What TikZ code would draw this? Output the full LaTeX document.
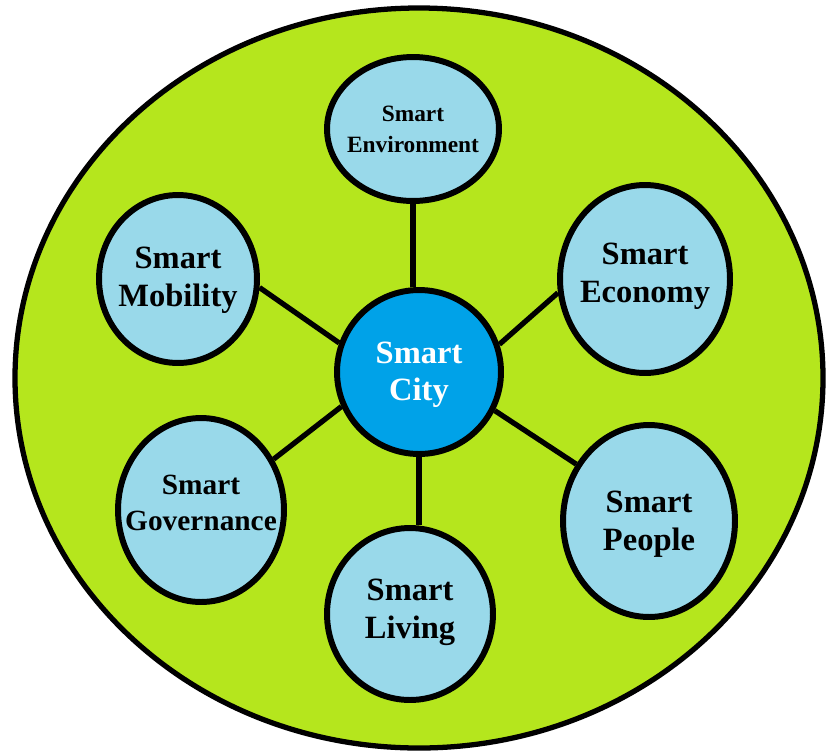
\documentclass[tikz,border=0pt]{standalone}
\usepackage{fontspec}
\setmainfont{Liberation Serif}
\usetikzlibrary{shapes.geometric}
\definecolor{limegreen}{HTML}{B5E61D}
\definecolor{paleblue}{HTML}{99D9EA}
\definecolor{cityblue}{HTML}{00A2E8}
\tikzset{
	part/.style={ellipse, draw=black, line width=3.4pt, fill=paleblue, inner sep=0pt},
	parttext/.style={align=center, inner sep=0pt, font=\bfseries\fontsize{18.5}{21.5}\selectfont},
	link/.style={line width=3pt},
}

\begin{document}
\begin{tikzpicture}[x=0.02cm, y=-0.02cm]
		\useasboundingbox (0,0) rectangle (827,754);
		\draw[fill=limegreen, line width=3pt] (419,378) ellipse [x radius=404, y radius=370];
		% the six parts round the centre
		\node[part, fill=cityblue, minimum width=3.28cm, minimum height=3.28cm] (city) at (419,372) {};
		\node[part, minimum width=3.44cm, minimum height=2.88cm] (env) at (413,129) {};
		\node[part, minimum width=3.16cm, minimum height=3.36cm] (mob) at (178,279) {};
		\node[part, minimum width=3.40cm, minimum height=3.76cm] (eco) at (645,279) {};
		\node[part, minimum width=3.32cm, minimum height=3.68cm] (gov) at (201,510) {};
		\node[part, minimum width=3.32cm, minimum height=3.44cm] (liv) at (410,614) {};
		\node[part, minimum width=3.44cm, minimum height=3.84cm] (peo) at (649,521) {};
		% texts
		\node[parttext, text=white, yshift=-1.5pt] (citytext) at (city) {Smart\\City};
		\node[parttext, font=\bfseries\fontsize{13.3}{17.5}\selectfont] (envtext) at (env) {Smart\\Environment};
		\node[parttext, yshift=-0.5pt] (mobtext) at (mob) {Smart\\Mobility};
		\node[parttext, yshift=1.5pt] (ecotext) at (eco) {Smart\\Economy};
		\node[parttext, font=\bfseries\fontsize{16.7}{20.5}\selectfont, yshift=4pt] (govtext) at (gov) {Smart\\Governance};
		\node[parttext, yshift=1pt] (livtext) at (liv) {Smart\\Living};
		\node[parttext, yshift=-2pt] (peotext) at (peo) {Smart\\People};
		% spokes
		\draw[link] (city.160) -- (mob.354);
		\draw[link] (city.19) -- (eco.189);
		\draw[link] (city.333) -- (peo.142);
		\draw[link] (city.204) -- (gov.35);
		\draw[link] (env.south) -- (env.south |- city.north);
		\draw[link] (city.south) -- (city.south |- liv.north);
	\end{tikzpicture}
\end{document}
